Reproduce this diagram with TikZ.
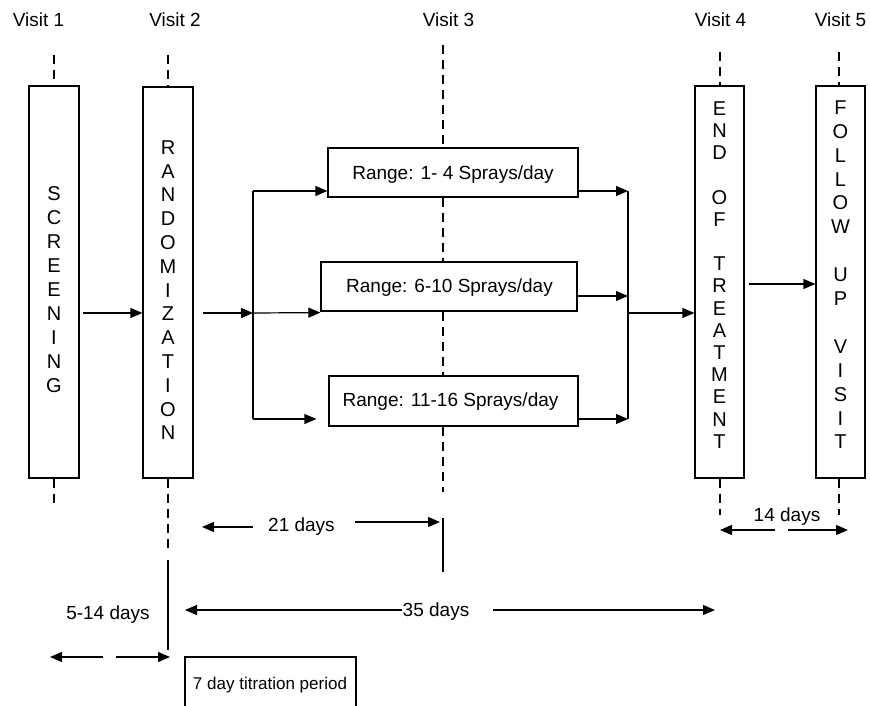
\documentclass[tikz,border=0pt]{standalone}
\usepackage{fontspec}
\setmainfont{Liberation Sans}
\usetikzlibrary{arrows.meta}
\begin{document}
\begin{tikzpicture}[x=1pt,y=-1pt,
  line width=1.2pt,
  box/.style={draw, line width=1.2pt, inner sep=0pt},
  arr/.style={-{Triangle[length=12pt,width=10pt]}},
  dsh/.style={dash pattern=on 9pt off 6pt, line width=1.2pt},
  lbl/.style={font=\fontsize{19}{23}\selectfont, inner sep=0pt, text height=13.6pt, text depth=0pt},
  vtxt/.style={align=center, inner sep=0pt, anchor=north},
]
\clip (0,0) rectangle (870,706);
\useasboundingbox (0,0) rectangle (870,706);

% visit labels
\node[lbl] (v1) at (38.5,20) {Visit 1};
\node[lbl] (v2) at (175,20) {Visit 2};
\node[lbl] (v3) at (448.5,20) {Visit 3};
\node[lbl] (v4) at (720.5,20) {Visit 4};
\node[lbl] (v5) at (840.5,20) {Visit 5};

% tall boxes
\node[box, minimum width=50pt, minimum height=392pt] (scr) at (54,282) {};
\node[box, minimum width=50pt, minimum height=391pt] (rnd) at (168,282.5) {};
\node[box, minimum width=49pt, minimum height=392pt] (eot) at (719.5,282) {};
\node[box, minimum width=49pt, minimum height=392pt] (fuv) at (840.5,282) {};

\node[vtxt, font=\fontsize{20}{24}\selectfont] (scrt) at (54,186) {S\\C\\R\\E\\E\\N\\I\\N\\G};
\node[vtxt, font=\fontsize{20}{23.8}\selectfont] (rndt) at (168,140) {R\\A\\N\\D\\O\\M\\I\\Z\\A\\T\\I\\O\\N};
\node[vtxt, font=\fontsize{20}{22.2}\selectfont] (eott) at (719.5,101) {E\\N\\D\\\mbox{}\\O\\F\\\mbox{}\\T\\R\\E\\A\\T\\M\\E\\N\\T};
\node[vtxt, font=\fontsize{20}{23.9}\selectfont] (fuvt) at (840.5,100) {F\\O\\L\\L\\O\\W\\\mbox{}\\U\\P\\\mbox{}\\V\\I\\S\\I\\T};

% range boxes
\node[box, minimum width=250pt, minimum height=49pt] (r1) at (453,172.5) {};
\node[lbl] (r1t) at (453,173) {Range: 1- 4 Sprays/day};
\node[box, minimum width=256pt, minimum height=49pt] (r2) at (449,286.5) {};
\node[lbl] (r2t) at (449.5,285.5) {Range: 6-10 Sprays/day};
\node[box, minimum width=249pt, minimum height=50pt] (r3) at (453.5,401) {};
\node[lbl] (r3t) at (450.5,400) {Range: 11-16 Sprays/day};

% coordinates for the dashed visit lines
\coordinate (d1top) at (54,55);
\coordinate (d1bot) at (54,505);
\coordinate (d2top) at (168,55);
\coordinate (d2bot) at (168,548);
\coordinate (s2top) at (168,560);
\coordinate (s2bot) at (168,650);
\coordinate (d3top) at (443,45);
\coordinate (d3bot) at (443,492);
\coordinate (s3top) at (443,518);
\coordinate (s3bot) at (443,572);
\coordinate (d4top) at (720,52);
\coordinate (d4bot) at (720,515);
\coordinate (d5top) at (839,52);
\coordinate (d5bot) at (839,515);

\draw[dsh] (d1top) -- (d1top |- scr.north);
\draw[dsh] (d1top |- scr.south) -- (d1bot);
\draw[dsh] (d2top) -- (d2top |- rnd.north);
\draw[dsh] (d2top |- rnd.south) -- (d2bot);
\draw (s2top) -- (s2bot);
\draw[dsh] (d3top) -- (d3top |- r1.north);
\draw[dsh] (d3top |- r1.south) -- (d3top |- r2.north);
\draw[dsh] (d3top |- r2.south) -- (d3top |- r3.north);
\draw[dsh] (d3top |- r3.south) -- (d3bot);
\draw (s3top) -- (s3bot);
\draw[dsh] (d4top) -- (d4top |- eot.north);
\draw[dsh] (d4top |- eot.south) -- (d4bot);
\draw[dsh] (d5top) -- (d5top |- fuv.north);
\draw[dsh] (d5top |- fuv.south) -- (d5bot);

% flow arrows
\coordinate (ymid) at (0,313);
\coordinate (bl1) at (253,191);
\coordinate (blm) at (253,313);
\coordinate (bl3) at (253,419);
\coordinate (br1) at (628,191);
\coordinate (br2) at (628,296);
\coordinate (brm) at (628,313);
\coordinate (br3) at (628,419);

\draw[arr] ([xshift=3pt]scr.east |- ymid) -- (rnd.west |- ymid);
\draw[arr] ([xshift=9pt]rnd.east |- ymid) -- (blm);
\draw (bl1) -- (bl3);
\draw[arr] (bl1) -- (r1.west |- bl1);
\draw[arr] (blm) -- ([yshift=-1pt]r2.south west);
\draw[arr] (bl3) -- ([xshift=-12pt]r3.west |- bl3);
\draw[arr] (r1.east |- br1) -- (br1);
\draw[arr] (r2.east |- br2) -- (br2);
\draw[arr] (r3.east |- br3) -- (br3);
\draw (br1) -- (br3);
\draw[arr] (brm) -- (eot.west |- brm);
\draw[arr] ([xshift=4pt]eot.east |- 0,284) -- (fuv.west |- 0,284);

% durations
\node[lbl] (d21) at (301.5,525) {21 days};
\coordinate (d21l) at (202,527);
\coordinate (d21r) at (440,522);
\draw[arr] (253,527) -- (d21l);
\draw[arr] (355,522) -- (d21r);

\node[lbl] (d35) at (436,610) {35 days};
\coordinate (d35l) at (185,610);
\coordinate (d35r) at (715,610);
\draw[arr] (d35.west) -- (d35l);
\draw[arr] (493,610) -- (d35r);

\node[lbl] (d514) at (108,613) {5-14 days};
\coordinate (d514l) at (50,657);
\coordinate (d514r) at (170,657);
\draw[arr] (103,657) -- (d514l);
\draw[arr] (116,657) -- (d514r);

\node[lbl] (d14) at (787,515) {14 days};
\coordinate (d14l) at (720,530);
\coordinate (d14r) at (848,530);
\draw[arr] (775,530) -- (d14l);
\draw[arr] (788,530) -- (d14r);

% titration
\node[box, minimum width=171pt, minimum height=60pt] (tit) at (270.5,687) {};
\node[font=\fontsize{17}{20}\selectfont, inner sep=0pt, text height=12.2pt, text depth=0pt] (titt) at (270,683) {7 day titration period};
\end{tikzpicture}
\end{document}
